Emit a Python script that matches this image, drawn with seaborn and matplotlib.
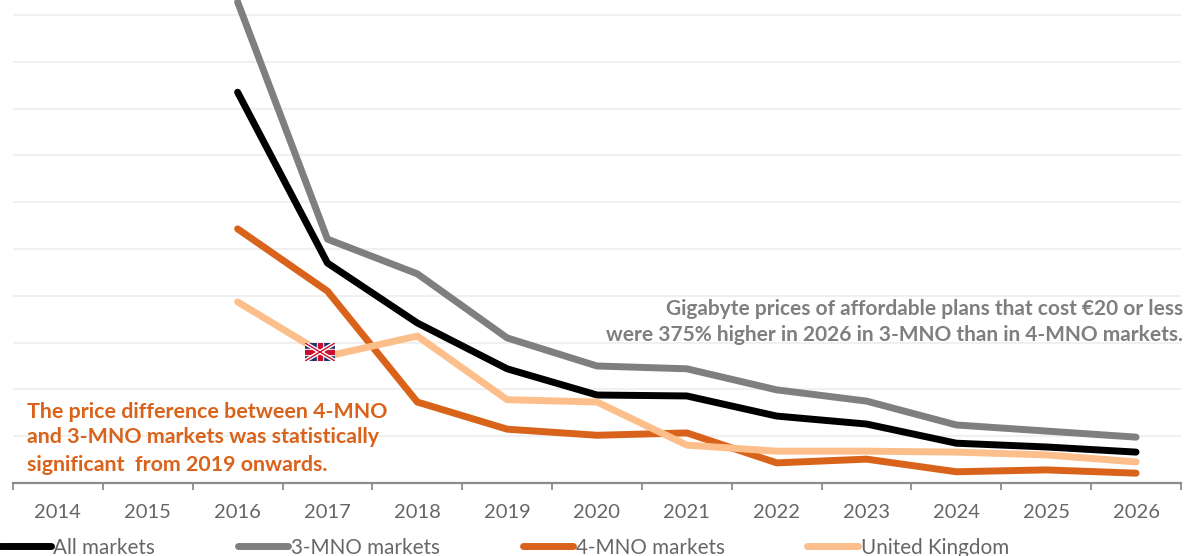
import matplotlib
matplotlib.use('Agg')
import matplotlib.pyplot as plt
import matplotlib.patches as mpatches
import pandas as pd
import seaborn as sns

YEARS = list(range(2014, 2027))
PLOT_YEARS = list(range(2016, 2027))

ALL_MARKETS = [8.35, 4.70, 3.42, 2.44, 1.88, 1.86, 1.43, 1.26, 0.85, 0.77, 0.66]
MNO_3 = [10.28, 5.21, 4.47, 3.10, 2.50, 2.44, 1.99, 1.75, 1.24, 1.11, 0.98]
MNO_4 = [5.43, 4.10, 1.73, 1.15, 1.02, 1.07, 0.43, 0.51, 0.24, 0.28, 0.21]
UK = [3.87, 2.71, 3.14, 1.78, 1.73, 0.81, 0.68, 0.68, 0.66, 0.60, 0.45]

SERIES = ['All markets', '3-MNO markets', '4-MNO markets', 'United Kingdom']
COLORS = ['#000000', '#7f7f7f', '#d9631a', '#fcbf8c']

W, H = 1185, 556
AX_LEFT, AX_RIGHT, AX_BOTTOM = 13, 1181, 483

df = pd.DataFrame({'year': PLOT_YEARS, SERIES[0]: ALL_MARKETS, SERIES[1]: MNO_3,
                   SERIES[2]: MNO_4, SERIES[3]: UK})
long_df = df.melt(id_vars='year', var_name='series', value_name='price')

sns.set_theme(style='white')
plt.rcParams['font.family'] = ['Lato', 'DejaVu Sans']

fig = plt.figure(figsize=(W / 100, H / 100), dpi=100)
ax = fig.add_axes([AX_LEFT / W, 1 - AX_BOTTOM / H, (AX_RIGHT - AX_LEFT) / W, AX_BOTTOM / H])

sns.lineplot(data=long_df, x='year', y='price', hue='series', hue_order=SERIES,
             palette=COLORS, linewidth=5, solid_capstyle='round', ax=ax, legend=False)

ax.set_xlim(2013.5, 2026.5)
ax.set_ylim(0, 483 / 46.8)
ax.set_xlabel('')
ax.set_ylabel('')

# gridlines every unit, no y labels
ax.set_yticks(range(0, 11))
ax.tick_params(axis='y', left=False, labelleft=False)
ax.grid(axis='y', color='#f0f0f0', linewidth=1.5)
ax.set_axisbelow(True)

# ticks sit between the years, labels centred on them
ax.set_xticks([y - 0.5 for y in YEARS] + [YEARS[-1] + 0.5])
ax.set_xticklabels([])
ax.tick_params(axis='x', which='major', bottom=True, length=5, width=1.3, color='#8c8c8c')
ax.set_xticks(YEARS, minor=True)
ax.set_xticklabels([str(y) for y in YEARS], minor=True, fontsize=14.5, color='#666666')
ax.tick_params(axis='x', which='minor', bottom=False, pad=11)

for side in ['top', 'left', 'right']:
    ax.spines[side].set_visible(False)
ax.spines['bottom'].set_color('#8c8c8c')
ax.spines['bottom'].set_linewidth(1.6)

# annotations
orange_lines = ['The price difference between 4-MNO', 'and 3-MNO markets was statistically',
                'significant  from 2019 onwards.']
for txt, py in zip(orange_lines, [412, 437, 465]):
    fig.text(27 / W, 1 - py / H, txt, color='#d9631a', fontsize=15.4, fontweight='bold', va='center', ha='left')

grey_lines = ['Gigabyte prices of affordable plans that cost €20 or less',
              'were 375% higher in 2026 in 3-MNO than in 4-MNO markets.']
for txt, py in zip(grey_lines, [309, 335]):
    fig.text(1183 / W, 1 - py / H, txt, color='#7f7f7f', fontsize=15, fontweight='bold', va='center', ha='right')

# legend
handles = [plt.Line2D([], [], color=c, linewidth=5, solid_capstyle='round') for c in COLORS]
leg = fig.legend(handles, SERIES, loc='lower left', bbox_to_anchor=(0, -0.003), ncol=4, frameon=False,
                 fontsize=14.9, handlelength=2.45, handletextpad=0.12, columnspacing=4.0, labelcolor='#666666',
                 borderaxespad=0, borderpad=0)

# UK flag marker
flag = fig.add_axes([305 / W, 1 - 361 / H, 30 / W, 18 / H], zorder=5)
flag.set_xlim(0, 30)
flag.set_ylim(0, 18)
flag.axis('off')
flag.add_patch(mpatches.Rectangle((0, 0), 30, 18, color='#1f2f6b'))
flag.plot([0, 30], [0, 18], color='white', linewidth=3)
flag.plot([0, 30], [18, 0], color='white', linewidth=3)
flag.plot([0, 30], [0, 18], color='#c8102e', linewidth=1)
flag.plot([0, 30], [18, 0], color='#c8102e', linewidth=1)
flag.add_patch(mpatches.Rectangle((12, 0), 6, 18, color='white'))
flag.add_patch(mpatches.Rectangle((0, 6), 30, 6, color='white'))
flag.add_patch(mpatches.Rectangle((13, 0), 4, 18, color='#c8102e'))
flag.add_patch(mpatches.Rectangle((0, 7), 30, 4, color='#c8102e'))

fig.savefig('out.png', dpi=100)
